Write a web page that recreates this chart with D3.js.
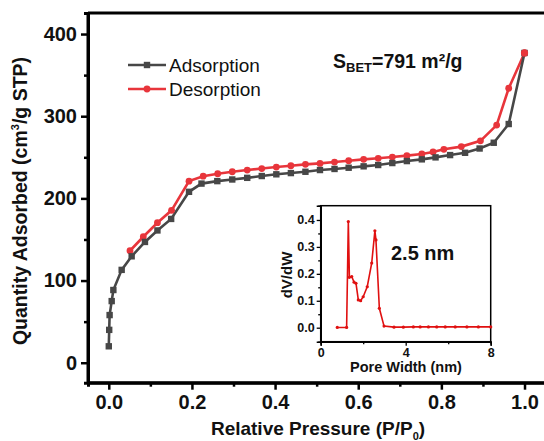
<!DOCTYPE html>
<html><head><meta charset="utf-8">
<script src="https://cdn.jsdelivr.net/npm/d3@7/dist/d3.min.js"></script>
<style>body{margin:0;background:#fff}svg{display:block;font-family:"Liberation Sans",Arial,sans-serif}</style>
</head><body><svg id="c" width="544" height="441"></svg>
<script>
// Adsorption branch
const adsP = [0.000,0.001,0.002,0.007,0.011,0.031,0.055,0.087,0.117,0.150,0.193,0.223,0.261,0.297,0.333,0.368,0.403,0.438,0.473,0.508,0.543,0.577,0.613,0.648,0.682,0.717,0.753,0.786,0.821,0.857,0.892,0.926,0.962,1.000];
const adsQ = [20,40,58,75,88.5,113,129.5,147,161,175,208,218,221,223,225,227.2,229.3,230.8,232.4,234.5,235.8,237.3,239,240.6,243,245.4,247.5,249.9,252.7,255.5,260.7,267.7,290.5,377];
// Desorption branch
const desP = [1.000,0.962,0.933,0.894,0.848,0.806,0.780,0.753,0.717,0.682,0.648,0.613,0.577,0.543,0.508,0.473,0.438,0.403,0.368,0.333,0.297,0.262,0.227,0.193,0.151,0.117,0.083,0.051];
const desQ = [377,334,289.2,270,263,259.7,256.5,254,252,250.3,248.8,247.5,245.8,244.2,242.6,241.4,239.7,238.1,236.3,234.5,232.4,230,227,221,185.5,170.4,153.3,136.3];
// Inset: pore size distribution
const poreW = [0.78,1.22,1.30,1.35,1.46,1.57,1.66,1.77,1.88,2.00,2.19,2.40,2.55,2.60,2.76,2.98,3.45,3.89,4.36,4.68,5.07,5.46,5.86,6.33,6.88,7.42,8.00];
const poreV = [0.001,0.001,0.394,0.187,0.190,0.169,0.165,0.103,0.100,0.115,0.152,0.240,0.360,0.326,0.072,0.006,0.002,0.002,0.003,0.003,0.003,0.003,0.003,0.003,0.003,0.003,0.003];
const xTicks = [0.0,0.2,0.4,0.6,0.8,1.0];
const yTicks = [0,100,200,300,400];
const insetXTicks = [0,4,8];
const insetYTicks = [0.0,0.1,0.2,0.3,0.4];
const seriesNames = ["Adsorption","Desorption"];

const svg = d3.select("#c");
const DARK = "#474747", RED = "#e8353b", IRED = "#e01010";

const x = d3.scaleLinear().domain([-0.05,1.05]).range([88,545.3]);
const y = d3.scaleLinear().domain([-24.3,425.6]).range([382.7,13]);

// frame (top)
svg.append("line").attr("x1",88).attr("x2",544).attr("y1",13).attr("y2",13).attr("stroke","#000").attr("stroke-width",3);

const fmt1 = d3.format(".1f");
const gx = svg.append("g").attr("transform","translate(0,382.7)")
  .call(d3.axisBottom(x).tickValues(xTicks).tickFormat(fmt1).tickSize(7).tickPadding(5));
const gxm = svg.append("g").attr("transform","translate(0,382.7)")
  .call(d3.axisBottom(x).tickValues([0.1,0.3,0.5,0.7,0.9]).tickFormat("").tickSize(4));
const gy = svg.append("g").attr("transform","translate(88,0)")
  .call(d3.axisLeft(y).tickValues(yTicks).tickSize(7).tickPadding(4));
const gym = svg.append("g").attr("transform","translate(88,0)")
  .call(d3.axisLeft(y).tickValues([50,150,250,350]).tickFormat("").tickSize(4));
[gx,gxm,gy,gym].forEach(g=>{
  g.select(".domain").attr("stroke","#000").attr("stroke-width",3);
  g.selectAll(".tick line").attr("stroke","#000").attr("stroke-width",2.5);
  g.selectAll(".tick text").attr("fill","#111").attr("font-weight","bold").attr("font-size",20).attr("font-family","Liberation Sans, Arial, sans-serif");
});
gx.select(".domain").attr("d","M88,0H544");
gy.select(".domain").attr("d","M0,382.7V13");

// axis titles
const xt = svg.append("text").attr("x",318).attr("y",435).attr("text-anchor","middle")
  .attr("font-weight","bold").attr("font-size",19).attr("fill","#111");
xt.append("tspan").text("Relative Pressure (P/P");
xt.append("tspan").attr("font-size",11).attr("dy",5).text("0");
xt.append("tspan").attr("dy",-5).text(")");

const yt = svg.append("text").attr("transform","translate(27,201) rotate(-90)").attr("text-anchor","middle")
  .attr("font-weight","bold").attr("font-size",19.5).attr("fill","#111");
yt.append("tspan").text("Quantity Adsorbed (cm");
yt.append("tspan").attr("font-size",11).attr("dy",-8).text("3");
yt.append("tspan").attr("dy",8).text("/g STP)");

// series
const line = d3.line().x(d=>x(d[0])).y(d=>y(d[1]));
const ads = adsP.map((p,i)=>[p,adsQ[i]]);
const des = desP.map((p,i)=>[p,desQ[i]]);
svg.append("path").datum(des).attr("d",line).attr("fill","none").attr("stroke",RED).attr("stroke-width",2.6);
svg.append("path").datum(ads).attr("d",line).attr("fill","none").attr("stroke",DARK).attr("stroke-width",2.6);
svg.append("g").selectAll("circle").data(des).join("circle")
  .attr("cx",d=>x(d[0])).attr("cy",d=>y(d[1])).attr("r",3.4).attr("fill",RED);
svg.append("g").selectAll("rect").data(ads).join("rect")
  .attr("x",d=>x(d[0])-3.2).attr("y",d=>y(d[1])-3.2).attr("width",6.4).attr("height",6.4).attr("fill",DARK);
svg.append("circle").attr("cx",x(desP[0])).attr("cy",y(desQ[0])).attr("r",3.6).attr("fill",RED);

// legend
const leg = svg.append("g");
seriesNames.forEach((n,i)=>{
  const yy = 65 + i*24;
  const col = i===0?DARK:RED;
  leg.append("line").attr("x1",128).attr("x2",166).attr("y1",yy).attr("y2",yy).attr("stroke",col).attr("stroke-width",2.6);
  if(i===0) leg.append("rect").attr("x",147-3.2).attr("y",yy-3.2).attr("width",6.4).attr("height",6.4).attr("fill",col);
  else leg.append("circle").attr("cx",147).attr("cy",yy).attr("r",3.4).attr("fill",col);
  leg.append("text").attr("x",169).attr("y",yy+7).attr("font-size",19).attr("fill","#111").text(n);
});

// S_BET annotation
const st = svg.append("text").attr("x",333).attr("y",68).attr("font-weight","bold").attr("font-size",19.5).attr("fill","#111");
st.append("tspan").text("S");
st.append("tspan").attr("font-size",13).attr("dy",4).text("BET");
st.append("tspan").attr("dy",-4).text("=791 m²/g");

// inset
const ix = d3.scaleLinear().domain([0,8]).range([320.7,490.7]);
const iy = d3.scaleLinear().domain([-0.052,0.453]).range([341.7,205.7]);
svg.append("rect").attr("x",320.7).attr("y",205.7).attr("width",170).attr("height",136)
  .attr("fill","#fff").attr("stroke","#000").attr("stroke-width",1.5);
const igx = svg.append("g").attr("transform","translate(0,341.7)")
  .call(d3.axisBottom(ix).tickValues(insetXTicks).tickFormat(d3.format("d")).tickSize(4).tickPadding(2));
const igxm = svg.append("g").attr("transform","translate(0,341.7)")
  .call(d3.axisBottom(ix).tickValues([2,6]).tickFormat("").tickSize(2.5));
const igy = svg.append("g").attr("transform","translate(320.7,0)")
  .call(d3.axisLeft(iy).tickValues(insetYTicks).tickFormat(fmt1).tickSize(4).tickPadding(2));
const igym = svg.append("g").attr("transform","translate(320.7,0)")
  .call(d3.axisLeft(iy).tickValues([0.05,0.15,0.25,0.35]).tickFormat("").tickSize(2.5));
[igx,igxm,igy,igym].forEach(g=>{
  g.select(".domain").attr("stroke","#000").attr("stroke-width",1.5);
  g.selectAll(".tick line").attr("stroke","#000").attr("stroke-width",1.3);
  g.selectAll(".tick text").attr("fill","#111").attr("font-weight","bold").attr("font-size",12.5).attr("font-family","Liberation Sans, Arial, sans-serif");
});
const pore = poreW.map((w,i)=>[w,poreV[i]]);
svg.append("path").datum(pore).attr("d",d3.line().x(d=>ix(d[0])).y(d=>iy(d[1])))
  .attr("fill","none").attr("stroke",IRED).attr("stroke-width",1.6);
svg.append("g").selectAll("circle").data(pore).join("circle")
  .attr("cx",d=>ix(d[0])).attr("cy",d=>iy(d[1])).attr("r",1.6).attr("fill",IRED);
svg.append("text").attr("x",406).attr("y",372).attr("text-anchor","middle").attr("font-weight","bold")
  .attr("font-size",14.5).attr("fill","#111").text("Pore Width (nm)");
svg.append("text").attr("transform","translate(292,275) rotate(-90)").attr("text-anchor","middle").attr("font-weight","bold")
  .attr("font-size",15).attr("fill","#111").text("dV/dW");
svg.append("text").attr("x",391).attr("y",260).attr("font-weight","bold").attr("font-size",20).attr("fill","#111").text("2.5 nm");
</script></body></html>
